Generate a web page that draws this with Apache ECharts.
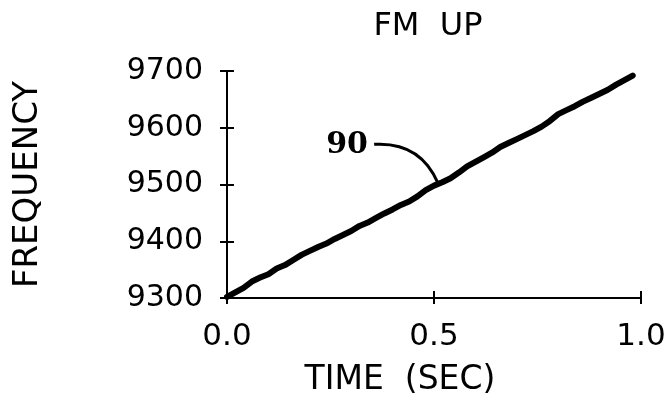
<!DOCTYPE html>
<html>
<head>
<meta charset="utf-8">
<script src="https://cdn.jsdelivr.net/npm/echarts@6/dist/echarts.min.js"></script>
<style>html,body{margin:0;padding:0;background:#fff}#c{width:671px;height:402px}</style>
</head>
<body>
<div id="c"></div>
<script>
var titleText = 'FM  UP';
var xName = 'TIME  (SEC)';
var yName = 'FREQUENCY';
var annotationLabel = '90';
var xTicks = [0.0, 0.5, 1.0];
var yTicks = [9300, 9400, 9500, 9600, 9700];
var timeSec = [0.00,0.02,0.04,0.06,0.08,0.10,0.12,0.14,0.16,0.18,0.20,0.22,0.24,0.26,0.28,0.30,0.32,0.34,0.36,0.38,0.40,0.42,0.44,0.46,0.48,0.50,0.52,0.54,0.56,0.58,0.60,0.62,0.64,0.66,0.68,0.70,0.72,0.74,0.76,0.78,0.80,0.82,0.84,0.86,0.88,0.90,0.92,0.94,0.96,0.98];
var frequency = [9302,9310,9318,9329,9336,9342,9352,9358,9367,9376,9383,9390,9396,9404,9411,9418,9427,9433,9441,9449,9456,9464,9470,9479,9490,9498,9504,9511,9521,9532,9540,9548,9556,9566,9573,9580,9587,9594,9602,9612,9624,9631,9638,9646,9653,9660,9667,9676,9684,9692];
var annotationPoint = [0.51, 9502];

var FONT = 'DejaVu Sans';
var chart = echarts.init(document.getElementById('c'), null, {renderer: 'canvas'});
var xMin = xTicks[0], xMax = xTicks[xTicks.length - 1], xInt = xTicks[1] - xTicks[0];
var yMin = yTicks[0], yMax = yTicks[yTicks.length - 1], yInt = yTicks[1] - yTicks[0];
var axisStyle = {color: '#000', width: 2};
var data = timeSec.map(function (t, i) { return [t, frequency[i]]; });
var L = 227, R = 30, T = 71, B = 104, W = 671, H = 402, TICK = 7;

function tickOnlyAxis(gi, min, max, interval) {
  return {
    gridIndex: gi, type: 'value', min: min, max: max, interval: interval,
    axisLine: {show: false}, axisTick: {show: false}, axisLabel: {show: false},
    splitLine: {show: true, showMinLine: true, showMaxLine: true, lineStyle: axisStyle}
  };
}
function hiddenAxis(gi) {
  return {gridIndex: gi, type: 'value', min: 0, max: 1, show: false};
}

chart.setOption({
  animation: false,
  backgroundColor: '#fff',
  title: {
    text: titleText, left: 423, top: 6, textAlign: 'center',
    textStyle: {fontFamily: FONT, fontSize: 32, fontWeight: 'normal', color: '#000'}
  },
  grid: [
    {left: L, right: R, top: T, bottom: B},
    {left: L, right: W - L - TICK, top: T, bottom: B},
    {left: L, right: R, top: H - B - TICK, bottom: B}
  ],
  xAxis: [{
    gridIndex: 0, type: 'value', min: xMin, max: xMax, interval: xInt, position: 'bottom',
    name: xName, nameLocation: 'middle', nameGap: 66,
    nameTextStyle: {fontFamily: FONT, fontSize: 33, color: '#000', padding: [0, 68, 0, 0]},
    axisLine: {show: true, onZero: false, lineStyle: axisStyle},
    axisTick: {show: true, inside: false, length: 6, lineStyle: axisStyle},
    axisLabel: {fontFamily: FONT, fontSize: 31, color: '#000', margin: 23,
      formatter: function (v) { return v.toFixed(1); }},
    splitLine: {show: false}
  }, hiddenAxis(1), tickOnlyAxis(2, xMin, xMax, xInt)],
  yAxis: [{
    gridIndex: 0, type: 'value', min: yMin, max: yMax, interval: yInt, position: 'left',
    name: yName, nameLocation: 'middle', nameGap: 182, nameRotate: 90,
    nameTextStyle: {fontFamily: FONT, fontSize: 34, color: '#000'},
    axisLine: {show: true, onZero: false, lineStyle: axisStyle},
    axisTick: {show: true, inside: false, length: 7, lineStyle: axisStyle},
    axisLabel: {fontFamily: FONT, fontSize: 30, color: '#000', margin: 24,
      formatter: function (v) { return String(v); }},
    splitLine: {show: false}
  }, tickOnlyAxis(1, yMin, yMax, yInt), hiddenAxis(2)],
  series: [{
    type: 'line', data: data, xAxisIndex: 0, yAxisIndex: 0,
    showSymbol: false, smooth: false, z: 5,
    lineStyle: {color: '#000', width: 6, join: 'round', cap: 'round'}
  }, {
    type: 'line', data: [], xAxisIndex: 1, yAxisIndex: 1, showSymbol: false, silent: true
  }, {
    type: 'line', data: [], xAxisIndex: 2, yAxisIndex: 2, showSymbol: false, silent: true
  }]
});

var p = chart.convertToPixel({gridIndex: 0}, annotationPoint);
chart.setOption({
  graphic: [{
    type: 'text', left: p[0] - 112, top: p[1] - 53,
    style: {text: annotationLabel, fontFamily: 'DejaVu Serif', fontWeight: 'bold', fontSize: 30, fill: '#000'}
  }, {
    type: 'bezierCurve',
    shape: {x1: p[0] - 64, y1: p[1] - 39, cpx1: p[0] - 18, cpy1: p[1] - 42, x2: p[0], y2: p[1]},
    style: {stroke: '#000', lineWidth: 3, fill: null}
  }]
});
</script>
</body>
</html>
